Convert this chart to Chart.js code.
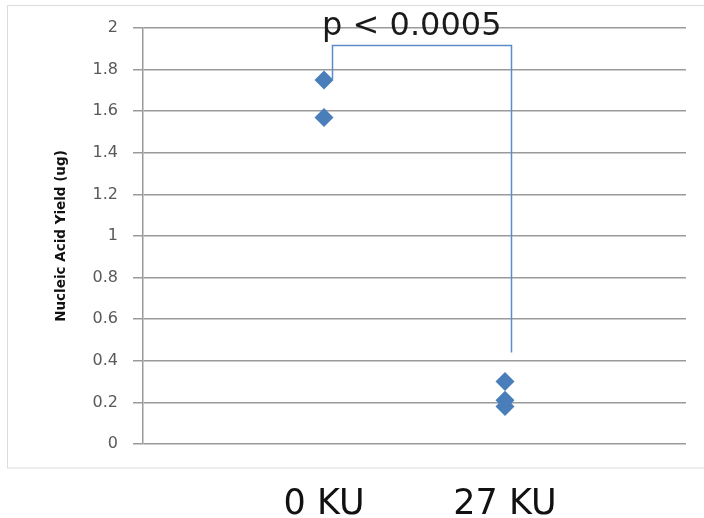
<!DOCTYPE html>
<html>
<head>
<meta charset="utf-8">
<script src="https://cdn.jsdelivr.net/npm/chart.js@4"></script>
<style>
  html, body { margin: 0; padding: 0; background: #fff; }
  #wrap { width: 704px; height: 518px; }
</style>
</head>
<body>
<div id="wrap"><canvas id="yieldChart"></canvas></div>
<script>
// categories and measured yields (ug)
const categories = ['0 KU', '27 KU'];
const yield0KU = [1.75, 1.57];
const yield27KU = [0.30, 0.21, 0.18];
const yTicks = [0, 0.2, 0.4, 0.6, 0.8, 1, 1.2, 1.4, 1.6, 1.8, 2];
const pLabel = 'p < 0.0005';

const blue = '#4a7ebb';
const bracketBlue = '#5b8bc9';
const gridGray = '#9a9a9a';

// significance bracket, in data units
const bracket = { x1: 1.045, x2: 2.035, top: 1.92, leftEnd: 1.755, rightEnd: 0.44, textX: 1.485, textY: 1.966 };

const points = [];
yield0KU.forEach(v => points.push({ x: 1, y: v }));
yield27KU.forEach(v => points.push({ x: 2, y: v }));

// light frame round the chart like the Excel chart object (open on the right)
const framePlugin = {
    id: 'frame',
    beforeDraw(chart) {
        const ctx = chart.ctx;
        ctx.save();
        ctx.fillStyle = '#fff';
        ctx.fillRect(0, 0, chart.width, chart.height);
        ctx.strokeStyle = '#dcdcdc';
        ctx.lineWidth = 1;
        ctx.strokeRect(7.5, 5.5, chart.width + 20, 462.5);
        ctx.restore();
    },
};

// bracket + p value
const bracketPlugin = {
    id: 'bracket',
    afterDatasetsDraw(chart) {
        const ctx = chart.ctx;
        const xs = chart.scales.x;
        const ys = chart.scales.y;
        const x1 = Math.round(xs.getPixelForValue(bracket.x1)) + 0.5;
        const x2 = Math.round(xs.getPixelForValue(bracket.x2)) + 0.5;
        const yt = Math.round(ys.getPixelForValue(bracket.top)) + 0.5;
        ctx.save();
        ctx.strokeStyle = bracketBlue;
        ctx.lineWidth = 1.5;
        ctx.beginPath();
        ctx.moveTo(x1, ys.getPixelForValue(bracket.leftEnd));
        ctx.lineTo(x1, yt);
        ctx.lineTo(x2, yt);
        ctx.lineTo(x2, ys.getPixelForValue(bracket.rightEnd));
        ctx.stroke();

        ctx.fillStyle = '#1a1a1a';
        ctx.font = '32px "DejaVu Sans"';
        ctx.textAlign = 'center';
        ctx.textBaseline = 'alphabetic';
        ctx.fillText(pLabel, xs.getPixelForValue(bracket.textX), ys.getPixelForValue(bracket.textY));
        ctx.restore();
    },
};

new Chart(document.getElementById('yieldChart'), {
    type: 'scatter',
    data: {
        datasets: [
            {
                label: 'Nucleic Acid Yield',
                data: points,
                pointStyle: 'rectRot',
                pointRadius: 9.5,
                pointHoverRadius: 9.5,
                backgroundColor: blue,
                borderColor: blue,
                borderWidth: 0,
            },
        ],
    },
    options: {
        responsive: true,
        maintainAspectRatio: false,
        animation: false,
        layout: { padding: { left: 0, top: 28, right: 18, bottom: 0 } },
        plugins: {
            legend: { display: false },
            tooltip: { enabled: false },
        },
        scales: {
            x: {
                type: 'linear',
                min: 0,
                max: 3,
                afterFit: (scale) => { scale.height = 74; },
                afterBuildTicks: (scale) => {
                    scale.ticks = categories.map((c, i) => ({ value: i + 1 }));
                },
                grid: { display: false, drawTicks: false },
                border: { display: false },
                ticks: {
                    padding: 40,
                    color: '#111',
                    font: { family: 'DejaVu Sans', size: 35 },
                    callback: (v) => categories[v - 1],
                    maxRotation: 0,
                },
            },
            y: {
                min: 0,
                max: 2,
                afterFit: (scale) => { scale.width = 143; },
                afterBuildTicks: (scale) => {
                    scale.ticks = yTicks.map(v => ({ value: v }));
                },
                grid: { color: gridGray, lineWidth: 1.5, tickLength: 10, tickColor: gridGray },
                border: { display: true, color: gridGray, width: 1.5 },
                ticks: {
                    padding: 15,
                    color: '#595959',
                    font: { family: 'DejaVu Sans', size: 16 },
                    callback: (v) => String(Number(v.toFixed(1))),
                },
                title: {
                    display: true,
                    text: 'Nucleic Acid Yield (ug)',
                    color: '#111',
                    font: { family: 'DejaVu Sans', size: 13.5, weight: 'bold' },
                    padding: { top: 53, bottom: 0 },
                },
            },
        },
    },
    plugins: [framePlugin, bracketPlugin],
});
</script>
</body>
</html>
